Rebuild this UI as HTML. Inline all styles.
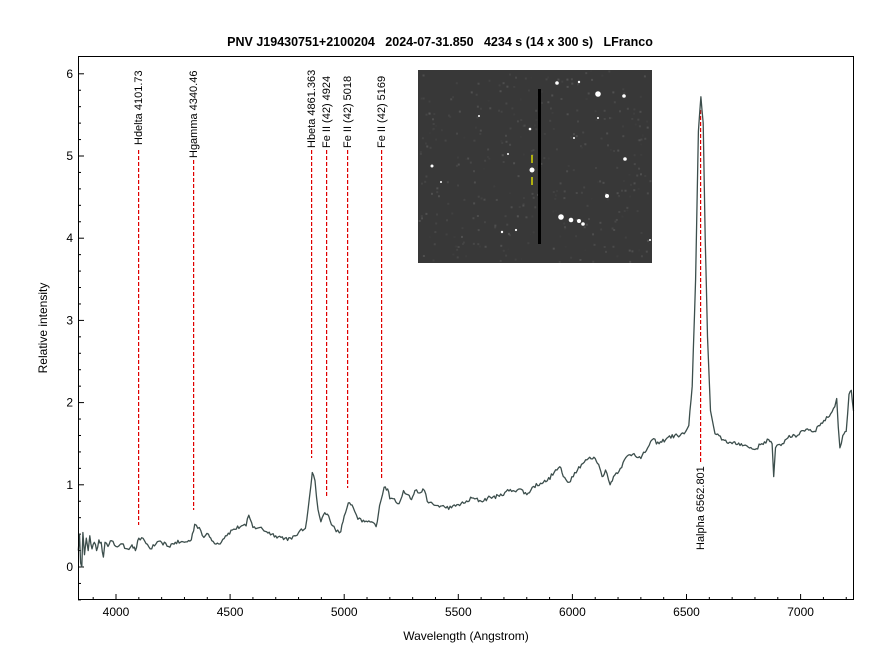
<!DOCTYPE html>
<html><head><meta charset="utf-8"><style>
html,body{margin:0;padding:0;background:#fff;}
svg{display:block;font-family:"Liberation Sans",Arial,sans-serif;}
.pre{white-space:pre;}
</style></head><body>
<svg id="s" width="880" height="670" viewBox="0 0 880 670" xmlns="http://www.w3.org/2000/svg">
<rect width="880" height="670" fill="#fff"/>
<text class="pre" xml:space="preserve" x="440" y="46" text-anchor="middle" font-size="12.5" font-weight="bold" fill="#000">PNV J19430751+2100204   2024-07-31.850   4234 s (14 x 300 s)   LFranco</text>
<g id="ticks" stroke="#000" stroke-width="1"></g>
<g id="lines" fill="#e00000"></g>
<path id="spec" fill="none" stroke="#3c4e4c" stroke-width="1.3" stroke-linejoin="round"/>
<rect x="78.5" y="56.5" width="775" height="543" fill="none" stroke="#000" stroke-width="1"/>
<g id="ylab" font-size="12" fill="#000" text-anchor="end"></g>
<g id="xlab" font-size="12" fill="#000" text-anchor="middle"></g>
<text x="466" y="640" text-anchor="middle" font-size="12" fill="#000">Wavelength (Angstrom)</text>
<text x="47" y="328" text-anchor="middle" font-size="12" fill="#000" transform="rotate(-90 47 328)">Relative intensity</text>
<g font-size="11" fill="#000">
<text transform="translate(142,145) rotate(-90)">Hdelta 4101.73</text>
<text transform="translate(197,158) rotate(-90)">Hgamma 4340.46</text>
<text transform="translate(315,148) rotate(-90)">Hbeta 4861.363</text>
<text transform="translate(330,148) rotate(-90)">Fe II (42) 4924</text>
<text transform="translate(351,148) rotate(-90)">Fe II (42) 5018</text>
<text transform="translate(385,148) rotate(-90)">Fe II (42) 5169</text>
<text transform="translate(704,550) rotate(-90)">Halpha 6562.801</text>
</g>
<g id="inset">
<rect x="418" y="70" width="234" height="193" fill="#383838"/>
<g id="noise"></g>
<line x1="539.5" y1="89" x2="539.5" y2="244" stroke="#000" stroke-width="3"/>
<line x1="532" y1="155" x2="532" y2="163" stroke="#d8d800" stroke-width="1.5"/>
<line x1="532" y1="177" x2="532" y2="185" stroke="#d8d800" stroke-width="1.5"/>
<g id="stars" fill="#fff"></g>
</g>
</svg>
<script>
var X=function(l){return 116+(l-4000)*0.2282;};
var Y=function(v){return 567-82.2*v;};
var ns="http://www.w3.org/2000/svg";
function el(t,a,p){var e=document.createElementNS(ns,t);for(var k in a)e.setAttribute(k,a[k]);p.appendChild(e);return e;}
var tk=document.getElementById('ticks'),yl=document.getElementById('ylab'),xl=document.getElementById('xlab');
for(var v=-0.4;v<=6.2;v+=0.2){var vv=Math.round(v*10)/10;var y=Y(vv);var maj=Math.abs(vv-Math.round(vv))<0.01;
el('line',{x1:78,y1:y,x2:maj?84:81,y2:y},tk);
if(maj){var t=el('text',{x:73,y:y+4},yl);t.textContent=Math.round(vv);}}
for(var l=3900;l<=7200;l+=100){var x=X(l);var maj=l%500==0;el('line',{x1:x,y1:600,x2:x,y2:maj?594:597},tk);
if(maj){var t=el('text',{x:x,y:616},xl);t.textContent=l;}}
var ln=document.getElementById('lines');
[[138,150,525],[193,160,510],[311,150,458],[326,150,497],[347,150,488],[381,150,480],[700,110,462]].forEach(function(a){
for(var y=a[1];y<a[2];y+=6){el('rect',{x:a[0],y:y,width:1.2,height:Math.min(4,a[2]-y)},ln);}});
var d=[[3835,0.2],[3840,0.4],[3845,0.05],[3850,0.0],[3855,0.42],[3862,0.15],[3870,0.35],[3878,0.2],[3885,0.38],[3895,0.22],[3905,0.3],[3915,0.2],[3925,0.33],[3935,0.3],[3945,0.12],[3952,0.3],[3965,0.25],[3980,0.32],[4000,0.25],[4020,0.28],[4050,0.22],[4070,0.27],[4085,0.2],[4100,0.35],[4125,0.32],[4150,0.22],[4175,0.28],[4200,0.3],[4230,0.25],[4260,0.3],[4300,0.3],[4330,0.33],[4345,0.52],[4365,0.48],[4385,0.36],[4405,0.4],[4420,0.32],[4450,0.28],[4480,0.38],[4510,0.45],[4550,0.5],[4570,0.5],[4582,0.63],[4600,0.48],[4630,0.48],[4660,0.43],[4700,0.38],[4740,0.35],[4770,0.34],[4800,0.42],[4830,0.47],[4848,0.85],[4860,1.15],[4872,1.05],[4885,0.7],[4898,0.55],[4915,0.66],[4932,0.62],[4950,0.5],[4965,0.43],[4985,0.43],[5000,0.62],[5018,0.78],[5040,0.72],[5060,0.58],[5090,0.55],[5120,0.55],[5140,0.49],[5155,0.75],[5175,0.97],[5190,0.95],[5200,0.83],[5220,0.83],[5240,0.77],[5260,0.93],[5280,0.88],[5295,0.82],[5310,0.93],[5330,0.9],[5345,0.95],[5370,0.78],[5400,0.75],[5440,0.73],[5470,0.72],[5500,0.76],[5530,0.78],[5560,0.84],[5600,0.8],[5640,0.85],[5680,0.86],[5710,0.92],[5740,0.93],[5770,0.95],[5800,0.88],[5830,0.98],[5860,1.02],[5890,1.05],[5920,1.15],[5945,1.22],[5960,1.1],[5985,1.03],[6010,1.15],[6040,1.25],[6070,1.32],[6100,1.32],[6115,1.25],[6130,1.1],[6145,1.18],[6165,1.0],[6180,1.1],[6210,1.2],[6240,1.35],[6270,1.38],[6300,1.32],[6330,1.45],[6350,1.55],[6380,1.5],[6420,1.58],[6460,1.6],[6490,1.62],[6510,1.72],[6525,2.2],[6540,3.5],[6552,5.3],[6563,5.72],[6573,5.4],[6582,4.0],[6592,2.8],[6605,1.9],[6625,1.62],[6660,1.55],[6700,1.5],[6740,1.5],[6770,1.46],[6800,1.43],[6830,1.5],[6860,1.55],[6875,1.5],[6882,1.1],[6890,1.45],[6920,1.5],[6950,1.6],[6980,1.58],[7000,1.65],[7030,1.68],[7060,1.65],[7090,1.75],[7120,1.82],[7150,1.95],[7158,2.05],[7165,1.7],[7172,1.45],[7185,1.6],[7200,1.65],[7212,2.1],[7222,2.15],[7232,1.9]];
var s=12345;function rnd(){s=(s*16807)%2147483647;return s/2147483647;}
var pts=[];for(var i=0;i<d.length-1;i++){var a=d[i],b=d[i+1];var n=Math.max(1,Math.round((b[0]-a[0])/6));
for(var j=0;j<n;j++){var f=j/n;var l=a[0]+(b[0]-a[0])*f;var v=a[1]+(b[1]-a[1])*f;if(j>0&&l<6520||j>0&&l>6620)v+=(rnd()-0.5)*0.05;pts.push(X(l).toFixed(1)+','+Y(v).toFixed(1));}}
var L=d[d.length-1];pts.push(X(L[0]).toFixed(1)+','+Y(L[1]).toFixed(1));
document.getElementById('spec').setAttribute('d','M'+pts.join('L'));
var nz=document.getElementById('noise');
for(var k=0;k<350;k++){var c=Math.floor(60+rnd()*40);el('rect',{x:418+rnd()*232,y:70+rnd()*191,width:2,height:2,fill:'rgb('+c+','+c+','+c+')',opacity:0.6},nz);}
var st=document.getElementById('stars');
[[598,94,2.8],[557,83,1.8],[624,96,1.8],[579,82,1.2],[432,166,1.5],[530,129,1.3],[532,170,2.5],[625,159,1.8],[607,196,2],[561,217,2.8],[571,220,2.3],[579,221,2],[583,224,1.8],[516,230,1.1],[502,232,1.2],[598,118,1],[508,154,1],[441,182,1],[650,240,1],[479,116,1],[574,138,1]].forEach(function(a){el('circle',{cx:a[0],cy:a[1],r:a[2]},st);});
</script>
</body></html>
